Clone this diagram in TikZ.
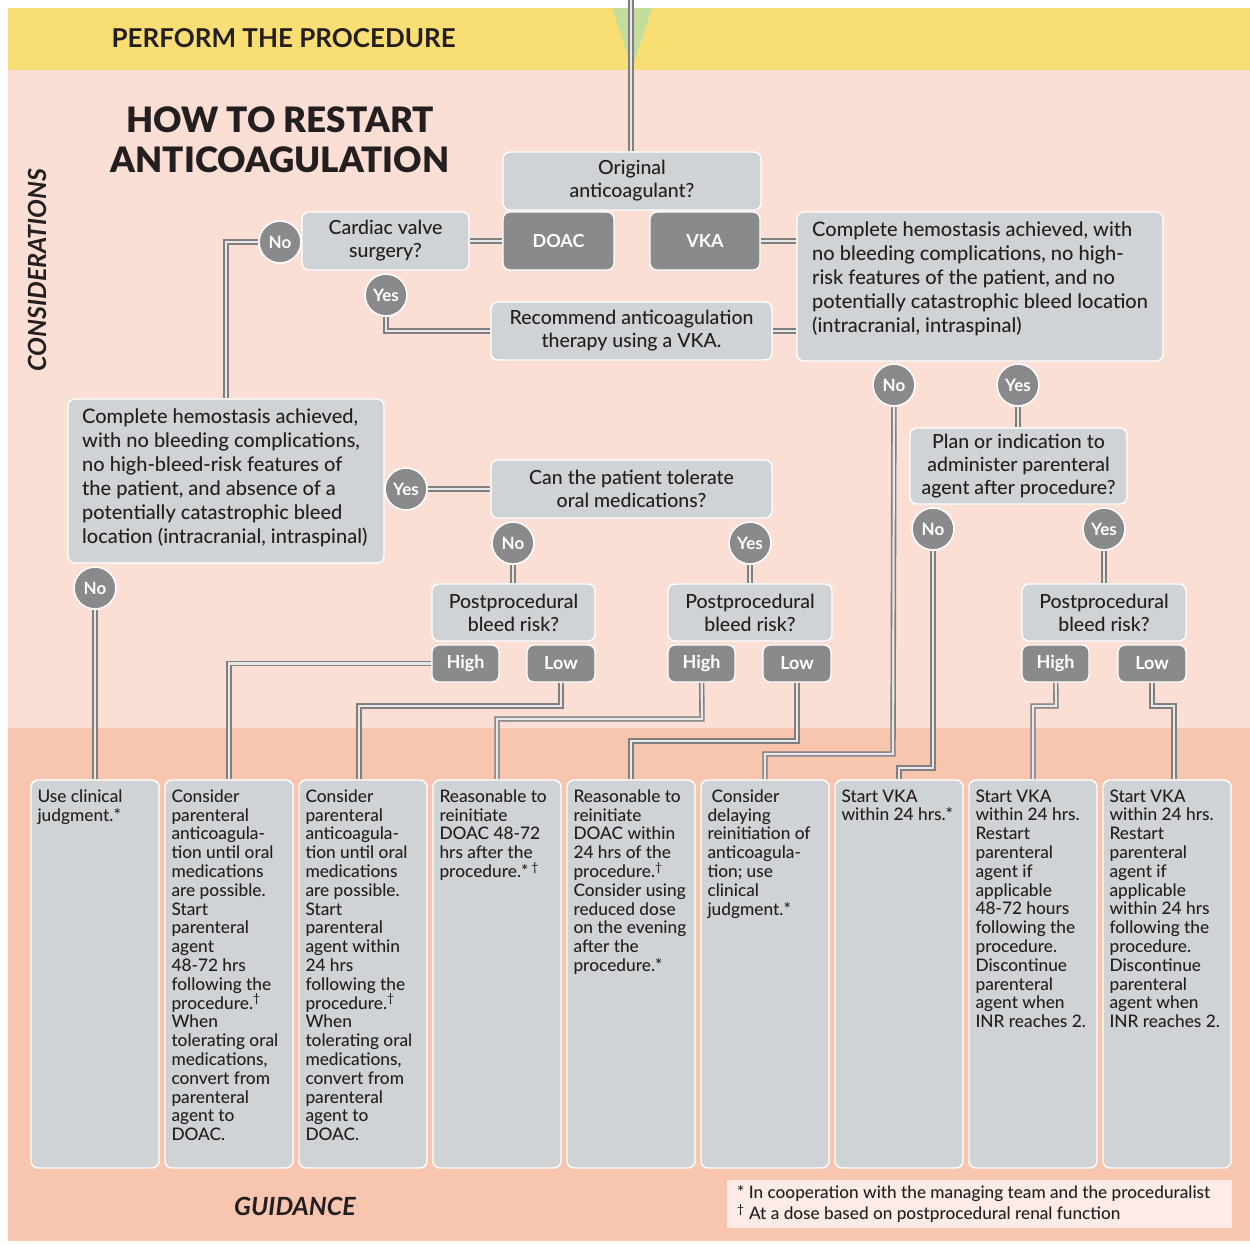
\documentclass[tikz,border=0pt]{standalone}
\usepackage{fontspec}
\setmainfont{Lato}[UprightFont=* Medium, ItalicFont=* Medium Italic, BoldFont=* Bold, BoldItalicFont=* Bold Italic]
\newfontfamily\heavyfont{Lato Black}
\usetikzlibrary{calc}

\definecolor{yellowband}{HTML}{F9DF73}
\definecolor{pinkbg}{HTML}{FBDED4}
\definecolor{salmonbg}{HTML}{F8C6AF}
\definecolor{boxgray}{HTML}{D0D3D5}
\definecolor{pickgray}{HTML}{8A8A8C}
\definecolor{wiregray}{HTML}{7F7F81}
\definecolor{wirein}{HTML}{E8E8E8}
\definecolor{footpink}{HTML}{FCEBE6}
\definecolor{trigreen}{HTML}{C3DB9B}
\definecolor{ink}{HTML}{231F20}

\pgfdeclarelayer{back}
\pgfdeclarelayer{wires}
\pgfsetlayers{back,wires,main}

\begin{document}
\begin{tikzpicture}[x=1pt,y=-1pt,
  ask/.style={rectangle, rounded corners=7pt, fill=boxgray, draw=white, line width=1.4pt,
    align=center, text=ink, inner sep=0pt, font=\fontsize{19.5}{23}\selectfont},
  pick/.style={ask, fill=pickgray, text=white, font=\bfseries\fontsize{18}{20}\selectfont},
  ans/.style={circle, fill=pickgray, draw=white, line width=1.6pt, text=white,
    minimum size=42pt, inner sep=0pt, font=\bfseries\fontsize{17}{18}\selectfont},
  guide/.style={ask, minimum width=128pt, minimum height=388pt},
  gtext/.style={anchor=north west, align=left, inner sep=0pt, text=ink,
    font=\fontsize{17.3}{18.8}\selectfont},
  longtext/.style={anchor=north west, align=left, inner sep=0pt, text=ink,
    font=\fontsize{20}{24}\selectfont},
  conn/.style={draw=wiregray, line width=1.6pt, double=wirein, double distance=2.2pt}
]
\useasboundingbox (0,0) rectangle (1250,1243);

% ---------- backdrop ----------
\begin{pgfonlayer}{back}
  \fill[white] (0,0) rectangle (1250,1243);
  \fill[yellowband] (8,8) rectangle (1250,70);
  \fill[pinkbg] (8,70) rectangle (1250,728);
  \fill[salmonbg] (8,728) rectangle (1250,1241);
  \fill[trigreen] (612,8) -- (652,8) -- (632,68) -- cycle;
\end{pgfonlayer}

% ---------- headings ----------
\node[anchor=west, text=ink, font=\bfseries\fontsize{26}{28}\selectfont] (hdr) at (108,38) {PERFORM THE PROCEDURE};
\node[align=center, text=ink, font=\heavyfont\fontsize{35}{40}\selectfont] (title) at (280,140) {HOW TO RESTART\\ANTICOAGULATION};
\node[rotate=90, text=ink, font=\bfseries\itshape\fontsize{25}{26}\selectfont] (cons) at (37,270) {CONSIDERATIONS};
\node[text=ink, font=\bfseries\itshape\fontsize{25}{26}\selectfont] (guid) at (295,1206) {GUIDANCE};

% ---------- decision tree ----------
\node[ask, minimum width=258pt, minimum height=58pt] (orig) at (632,181) {Original\\anticoagulant?};
\node[pick, minimum width=111pt, minimum height=58pt] (doac) at (558.5,241) {DOAC};
\node[pick, minimum width=110pt, minimum height=58pt] (vka) at (705,241) {VKA};
\node[ask, minimum width=167pt, minimum height=58pt] (cardiac) at (385.5,241) {Cardiac valve\\surgery?};
\node[ans] (noA) at (280,242) {No};
\node[ans] (yesA) at (386,295) {Yes};
\node[ask, minimum width=281pt, minimum height=58pt] (recommend) at (631.5,331) {Recommend anticoagulation\\therapy using a VKA.};

\node[ask, minimum width=366pt, minimum height=149pt] (hemoR) at (980,286.5) {};
\node[longtext] (hemoRt) at (812,222) {Complete hemostasis achieved, with\\no bleeding complications, no high-\\risk features of the patient, and no\\potentially catastrophic bleed location\\(intracranial, intraspinal)};
\node[ans] (noR) at (894,385) {No};
\node[ans] (yesR) at (1018,385) {Yes};
\node[ask, minimum width=217pt, minimum height=76pt] (plan) at (1018.5,466) {Plan or indication to\\administer parenteral\\agent after procedure?};
\node[ans] (noP) at (933,529) {No};
\node[ans] (yesP) at (1104,529) {Yes};

\node[ask, minimum width=316pt, minimum height=164pt] (hemoL) at (226,481) {};
\node[longtext] (hemoLt) at (82,409) {Complete hemostasis achieved,\\with no bleeding complications,\\no high-bleed-risk features of\\the patient, and absence of a\\potentially catastrophic bleed\\location (intracranial, intraspinal)};
\node[ans] (yesL) at (406,489) {Yes};
\node[ans] (noL) at (95,588) {No};

\node[ask, minimum width=281pt, minimum height=58pt] (tolerate) at (631.5,489) {Can the patient tolerate\\oral medications?};
\node[ans] (noT) at (513,543) {No};
\node[ans] (yesT) at (750,543) {Yes};

\node[ask, minimum width=163pt, minimum height=57pt] (pb1) at (513.5,612.5) {Postprocedural\\bleed risk?};
\node[pick, minimum width=67pt, minimum height=37pt] (high1) at (465.5,663.5) {High};
\node[pick, minimum width=68pt, minimum height=37pt] (low1) at (561,663.5) {Low};
\node[ask, minimum width=164pt, minimum height=57pt] (pb2) at (750,612.5) {Postprocedural\\bleed risk?};
\node[pick, minimum width=67pt, minimum height=37pt] (high2) at (701.5,663.5) {High};
\node[pick, minimum width=68pt, minimum height=37pt] (low2) at (797,663.5) {Low};
\node[ask, minimum width=164pt, minimum height=57pt] (pb3) at (1104,612.5) {Postprocedural\\bleed risk?};
\node[pick, minimum width=67pt, minimum height=37pt] (high3) at (1055.5,663.5) {High};
\node[pick, minimum width=68pt, minimum height=37pt] (low3) at (1152,663.5) {Low};

% ---------- guidance columns ----------
\foreach \i in {1,...,9} {
  \node[guide] (g\i) at ({95+134*(\i-1)},974) {};
}
\node[gtext] (g1t) at ([shift={(7,10)}]g1.north west) {Use clinical\\judgment.*};
\node[gtext] (g2t) at ([shift={(7,10)}]g2.north west) {Consider\\parenteral\\anticoagula-\\tion until oral\\medications\\are possible.\\Start\\parenteral\\agent\\48-72 hrs\\following the\\procedure.\textsuperscript{†}\\When\\tolerating oral\\medications,\\convert from\\parenteral\\agent to\\DOAC.};
\node[gtext] (g3t) at ([shift={(7,10)}]g3.north west) {Consider\\parenteral\\anticoagula-\\tion until oral\\medications\\are possible.\\Start\\parenteral\\agent within\\24 hrs\\following the\\procedure.\textsuperscript{†}\\When\\tolerating oral\\medications,\\convert from\\parenteral\\agent to\\DOAC.};
\node[gtext] (g4t) at ([shift={(7,10)}]g4.north west) {Reasonable to\\reinitiate\\DOAC 48-72\\hrs after the\\procedure.*\,\textsuperscript{†}};
\node[gtext] (g5t) at ([shift={(7,10)}]g5.north west) {Reasonable to\\reinitiate\\DOAC within\\24 hrs of the\\procedure.\textsuperscript{†}\\Consider using\\reduced dose\\on the evening\\after the\\procedure.*};
\node[gtext] (g6t) at ([shift={(7,10)}]g6.north west) {\hspace{4pt}Consider\\delaying\\reinitiation of\\anticoagula-\\tion; use\\clinical\\judgment.*};
\node[gtext] (g7t) at ([shift={(7,10)}]g7.north west) {Start VKA\\within 24 hrs.*};
\node[gtext] (g8t) at ([shift={(7,10)}]g8.north west) {Start VKA\\within 24 hrs.\\Restart\\parenteral\\agent if\\applicable\\48-72 hours\\following the\\procedure.\\Discontinue\\parenteral\\agent when\\INR reaches 2.};
\node[gtext] (g9t) at ([shift={(7,10)}]g9.north west) {Start VKA\\within 24 hrs.\\Restart\\parenteral\\agent if\\applicable\\within 24 hrs\\following the\\procedure.\\Discontinue\\parenteral\\agent when\\INR reaches 2.};

% ---------- footnotes ----------
\node[fill=footpink, minimum width=505pt, minimum height=48pt, inner sep=0pt] (foot) at (979.5,1204) {};
\node[anchor=west, align=left, inner sep=0pt, text=ink, font=\fontsize{17.2}{21}\selectfont] (foott) at (737,1204)
  {* In cooperation with the managing team and the proceduralist\\\textsuperscript{†} At a dose based on postprocedural renal function};

% ---------- connectors ----------
\coordinate (entry) at (631,0);
\coordinate (b3) at (561,706);
\coordinate (b4) at (702,719);
\coordinate (b5) at (797,741);
\coordinate (b6) at (893,754);
\coordinate (b7) at (933,768);
\coordinate (b8) at (1056,706);
\coordinate (b9) at (1152,706);

\begin{pgfonlayer}{wires}
  \draw[conn] (entry) -- (entry |- orig.north);
  \draw[conn] (cardiac.east) -- (doac.west);
  \draw[conn] (vka.east) -- (vka.east -| hemoR.west);
  \draw[conn] (recommend.east) -- (recommend.east -| hemoR.west);
  \draw[conn] (yesA) |- (recommend.west);
  \draw[conn] (noA) -| (hemoL.north);
  \draw[conn] (yesL) -- (yesL -| tolerate.west);
  \draw[conn] (noL) -- (noL |- g1.north);
  \draw[conn] (noT) -- (noT |- pb1.north);
  \draw[conn] (yesT) -- (yesT |- pb2.north);
  \draw[conn] (yesR) -- (yesR |- plan.north);
  \draw[conn] (yesP) -- (yesP |- pb3.north);
  \draw[conn] (high1.west) -| (g2.north);
  \draw[conn] (low1) -- (b3) -| ([xshift=-4pt]g3.north);
  \draw[conn] (high2) -- (b4) -| (g4.north);
  \draw[conn] (low2) -- (b5) -| (g5.north);
  \draw[conn] (noR) -- (b6) -| (g6.north);
  \draw[conn] (noP) -- (b7) -| (g7.north);
  \draw[conn] (high3) -- (b8) -| (g8.north);
  \draw[conn] (low3) -- (b9) -| ([xshift=7pt]g9.north);
\end{pgfonlayer}
\end{tikzpicture}
\end{document}
